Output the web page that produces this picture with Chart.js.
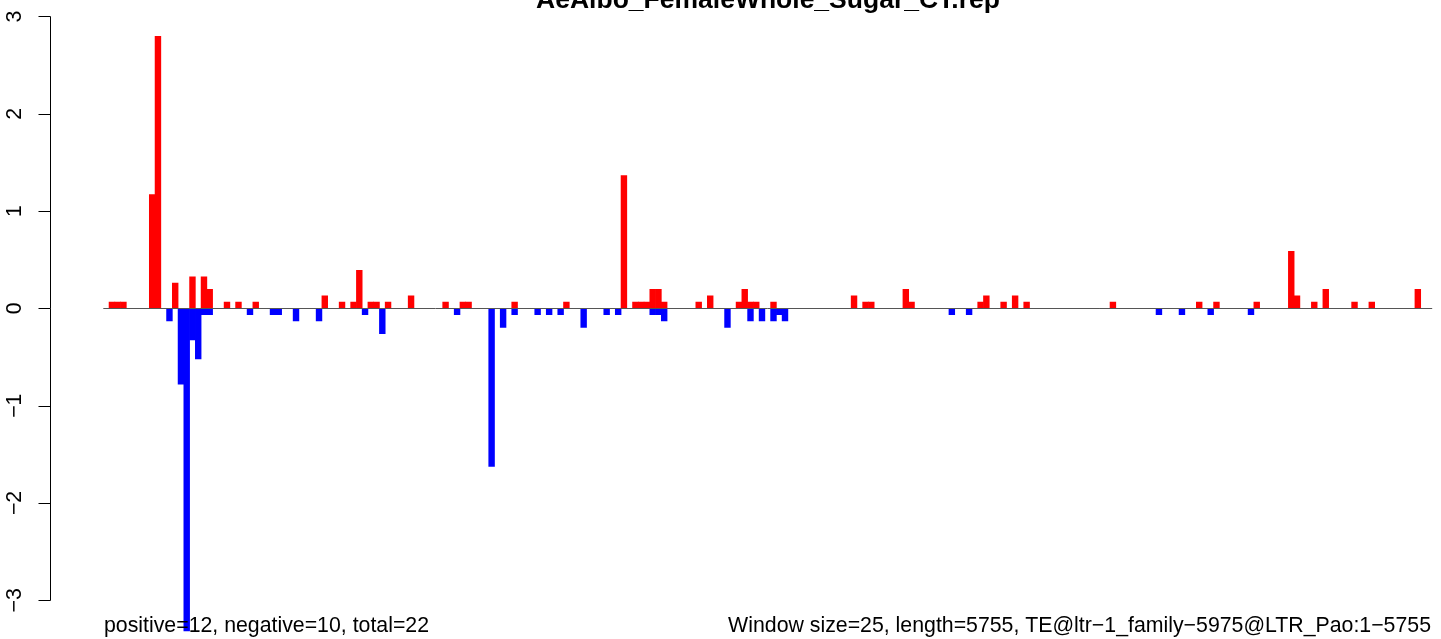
<!DOCTYPE html>
<html>
<head>
<meta charset="utf-8">
<script src="https://cdn.jsdelivr.net/npm/chart.js@4/dist/chart.umd.min.js"></script>
<style>
    body { margin: 0; background: #fff; }
    #wrap { width: 1441px; height: 639px; }
</style>
</head>
<body>
<div id="wrap"><canvas id="repChart" width="1441" height="639"></canvas></div>
<script>
// window count: 5755 bp / 25 bp windows
const windowCount = 231;

// windows with a positive signal and their heights
const posWindows = [1, 2, 3, 8, 9, 12, 15, 17, 18, 21, 23, 26, 38, 41, 43, 44, 46, 47, 49, 53,
    59, 62, 63, 71, 80, 90, 92, 93, 94, 95, 96, 97, 103, 105, 110, 111, 112, 113, 116, 130,
    132, 133, 139, 140, 152, 153, 156, 158, 160, 175, 190, 193, 200, 206, 207, 210, 212, 217, 220, 228];
const posValues = [0.065, 0.065, 0.065, 1.17, 2.795, 0.26, 0.325, 0.325, 0.195, 0.065, 0.065, 0.065, 0.13, 0.065, 0.065, 0.39, 0.065, 0.065, 0.065, 0.13,
    0.065, 0.065, 0.065, 0.065, 0.065, 1.365, 0.065, 0.065, 0.065, 0.195, 0.195, 0.065, 0.065, 0.13, 0.065, 0.195, 0.065, 0.065, 0.065, 0.13,
    0.065, 0.065, 0.195, 0.065, 0.065, 0.13, 0.065, 0.13, 0.065, 0.065, 0.065, 0.065, 0.065, 0.585, 0.13, 0.065, 0.195, 0.065, 0.065, 0.195];

// windows with a negative signal and their heights
const negWindows = [11, 13, 14, 15, 16, 17, 18, 25, 29, 30, 33, 37, 45, 48, 61, 67, 69, 71, 75, 77,
    79, 83, 87, 89, 95, 96, 97, 108, 112, 114, 116, 117, 118, 147, 150, 183, 187, 192, 199];
const negValues = [-0.13, -0.78, -3.315, -0.325, -0.52, -0.065, -0.065, -0.065, -0.065, -0.065, -0.13, -0.13, -0.065, -0.26, -0.065, -1.625, -0.195, -0.065, -0.065, -0.065,
    -0.065, -0.195, -0.065, -0.065, -0.065, -0.065, -0.13, -0.195, -0.13, -0.13, -0.13, -0.065, -0.13, -0.065, -0.065, -0.065, -0.065, -0.065, -0.065];

const yTicks = [-3, -2, -1, 0, 1, 2, 3];

const titleText = 'AeAlbo_FemaleWhole_Sugar_CT.rep';
const leftNote = 'positive=12, negative=10, total=22';
const rightNote = 'Window size=25, length=5755, TE@ltr\u22121_family\u22125975@LTR_Pao:1\u22125755';

const FONT = '"Liberation Sans", Arial, Helvetica, sans-serif';

function fillSeries(windows, values) {
    const out = new Array(windowCount).fill(null);
    windows.forEach((w, i) => { out[w] = values[i]; });
    return out;
}

const labels = [];
for (let i = 0; i < windowCount; i++) labels.push(String(i + 1));

// axis, baseline and texts drawn by hand in R style
const rDecor = {
    id: 'rDecor',
    afterDatasetsDraw(chart) {
        const ctx = chart.ctx;
        const y = chart.scales.y;
        const area = chart.chartArea;
        const y0 = Math.round(y.getPixelForValue(0)) + 0.5;

        ctx.save();
        ctx.strokeStyle = '#555555';
        ctx.lineWidth = 1;
        ctx.beginPath();
        ctx.moveTo(area.left, y0);
        ctx.lineTo(area.right, y0);
        ctx.stroke();
        ctx.restore();
    },
    afterDraw(chart) {
        const ctx = chart.ctx;
        const y = chart.scales.y;
        const axisX = 50.5;

        ctx.save();
        ctx.strokeStyle = '#000';
        ctx.lineWidth = 1;
        ctx.beginPath();
        ctx.moveTo(axisX, Math.round(y.getPixelForValue(yTicks[yTicks.length - 1])) + 0.5);
        ctx.lineTo(axisX, Math.round(y.getPixelForValue(yTicks[0])) + 0.5);
        yTicks.forEach(t => {
            const py = Math.round(y.getPixelForValue(t)) + 0.5;
            ctx.moveTo(axisX, py);
            ctx.lineTo(axisX - 12, py);
        });
        ctx.stroke();

        ctx.fillStyle = '#000';
        ctx.font = '21.3px ' + FONT;
        ctx.textAlign = 'center';
        ctx.textBaseline = 'alphabetic';
        yTicks.forEach(t => {
            const py = y.getPixelForValue(t);
            ctx.save();
            ctx.translate(21, py);
            ctx.rotate(-Math.PI / 2);
            ctx.fillText(t < 0 ? '\u2212' + Math.abs(t) : String(t), 0, 0);
            ctx.restore();
        });

        ctx.font = 'bold 26.5px ' + FONT;
        ctx.fillText(titleText, 768, 8);

        ctx.font = '21.3px ' + FONT;
        ctx.textAlign = 'left';
        ctx.fillText(leftNote, 104, 632);
        ctx.textAlign = 'right';
        ctx.fillText(rightNote, 1431, 632);
        ctx.restore();
    }
};

const ctx = document.getElementById('repChart').getContext('2d');
const repChart = new Chart(ctx, {
    type: 'bar',
    data: {
        labels: labels,
        datasets: [
            {
                label: 'positive',
                data: fillSeries(posWindows, posValues),
                backgroundColor: '#FF0000',
                borderWidth: 0,
                grouped: false,
                barPercentage: 1,
                categoryPercentage: 1
            },
            {
                label: 'negative',
                data: fillSeries(negWindows, negValues),
                backgroundColor: '#0000FF',
                borderWidth: 0,
                grouped: false,
                barPercentage: 1,
                categoryPercentage: 1
            }
        ]
    },
    options: {
        responsive: false,
        animation: false,
        layout: { padding: { left: 103.3, right: 8.8, top: 12, bottom: 0 } },
        plugins: {
            legend: { display: false },
            tooltip: { enabled: false },
            title: { display: false }
        },
        scales: {
            x: { display: false, offset: true, grid: { display: false } },
            y: { display: false, min: -3.398, max: 3.046, grid: { display: false } }
        }
    },
    plugins: [rDecor]
});
</script>
</body>
</html>
